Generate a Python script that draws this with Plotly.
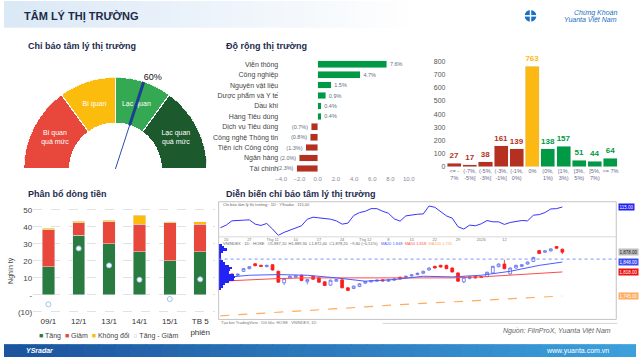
import plotly.graph_objects as go

W, H = 640, 360
FONT = "Arial, 'Liberation Sans', sans-serif"
NAVY = "#1d2b4f"


def fx(p):
    return p / W


def fy(p):
    return 1 - p / H


# ---------------- DATA ----------------
# Gauge
muc_tam_ly = ["Bi quan<br>quá mức", "Bi quan", "Lạc quan", "Lạc quan<br>quá mức"]
nguong_tam_ly = [0, 30, 50, 70, 100]
mau_tam_ly = ["#E8473B", "#FBBC0E", "#35A853", "#1C5A2D"]
chi_bao_hien_tai = 60

# Do rong thi truong theo nganh (%)
nganh = ["Viễn thông", "Công nghiệp", "Nguyên vật liệu", "Dược phẩm và Y tế", "Dầu khí",
         "Hàng Tiêu dùng", "Dịch vụ Tiêu dùng", "Công nghệ Thông tin", "Tiện ích Công cộng",
         "Ngân hàng", "Tài chính"]
do_rong = [7.6, 4.7, 1.5, 0.9, 0.4, 0.4, -0.7, -0.8, -1.3, -2.0, -2.3]

# Phan phoi bien dong gia
khoang_gia = ["<= -<br>7%", "(-7%,<br>-5%]", "(-5%,<br>-3%]", "(-3%,<br>-1%]", "(-1%,<br>0%)", "0%",
              "(0%,<br>1%)", "[1%,<br>3%)", "[3%,<br>5%)", "[5%,<br>7%)", ">= 7%"]
so_ma = [27, 17, 38, 161, 139, 763, 138, 157, 51, 44, 64]
mau_khoang = ["#B5301F"] * 5 + ["#FDB913"] + ["#009A44"] * 5

# Phan bo dong tien (nghin ty)
ngay = ["09/1", "12/1", "13/1", "14/1", "15/1", "TB 5<br>phiên"]
tang = [16.5, 35.0, 30.2, 25.3, 20.0, 25.4]
giam = [22.0, 7.6, 12.8, 16.3, 22.4, 16.2]
khong_doi = [0.9, 0.8, 1.0, 5.3, 0.8, 1.6]

# Dien bien chi bao tam ly (top pane)
chi_bao_ts = [52, 60, 73, 73, 75, 76, 63, 59, 65, 48, 29, 38, 45, 50, 58, 78, 84, 82, 81, 78,
              73, 63, 66, 89, 98, 102, 110, 110, 102, 96, 79, 72, 88, 91, 93, 94, 118, 114, 100, 88,
              81, 55, 48, 60, 58, 64, 74, 70, 70, 62, 68, 72, 74, 73, 90, 92, 98, 109, 110, 115]

# VN-Index candles
gia_mo = [1802, 1808, 1812, 1808, 1820, 1828, 1843, 1838, 1834, 1840, 1820, 1785, 1800, 1802, 1808,
          1788, 1805, 1800, 1788, 1778, 1790, 1794, 1770, 1768, 1774, 1784, 1788, 1790, 1794, 1790,
          1793, 1802, 1801, 1806, 1810, 1814, 1824, 1835, 1838, 1838, 1830, 1815, 1788, 1798, 1804,
          1804, 1804, 1815, 1834, 1842, 1812, 1830, 1835, 1842, 1850, 1883, 1878, 1882, 1895, 1887]
gia_cao = [1804, 1810, 1813, 1813, 1830, 1836, 1845, 1840, 1840, 1842, 1822, 1800, 1807, 1809, 1810,
           1797, 1807, 1802, 1790, 1795, 1797, 1796, 1772, 1777, 1784, 1791, 1794, 1795, 1796, 1796,
           1799, 1804, 1807, 1811, 1816, 1822, 1832, 1837, 1840, 1840, 1832, 1817, 1804, 1806, 1806,
           1806, 1819, 1837, 1844, 1855, 1832, 1840, 1842, 1850, 1864, 1885, 1884, 1890, 1897, 1889]
gia_thap = [1793, 1802, 1807, 1806, 1818, 1826, 1835, 1833, 1832, 1822, 1785, 1778, 1798, 1800, 1790,
            1780, 1794, 1785, 1775, 1776, 1788, 1768, 1760, 1766, 1772, 1782, 1786, 1788, 1789, 1788,
            1791, 1795, 1799, 1804, 1808, 1812, 1822, 1828, 1831, 1826, 1816, 1788, 1784, 1796, 1798,
            1800, 1802, 1813, 1832, 1826, 1810, 1828, 1833, 1840, 1848, 1872, 1876, 1880, 1888, 1872]
gia_dong = [1795, 1804, 1809, 1811, 1828, 1834, 1837, 1835, 1838, 1824, 1787, 1798, 1805, 1807, 1792,
            1795, 1796, 1787, 1777, 1793, 1795, 1770, 1762, 1775, 1782, 1789, 1792, 1793, 1791, 1794,
            1797, 1797, 1805, 1809, 1814, 1820, 1830, 1830, 1833, 1828, 1818, 1790, 1802, 1804, 1800,
            1802, 1817, 1835, 1842, 1828, 1830, 1838, 1840, 1848, 1862, 1874, 1882, 1888, 1890, 1878]

phien_ma = [0, 5, 10, 15, 20, 25, 30, 35, 40, 45, 50, 55, 59]
ma_ngan = [1800, 1808, 1810, 1808, 1800, 1790, 1795, 1805, 1803, 1808, 1820, 1838, 1848]
ma_trung = [1790, 1795, 1798, 1800, 1800, 1800, 1800, 1800, 1800, 1803, 1808, 1814, 1818]
ma_dai = [1685, 1690, 1695, 1700, 1705, 1712, 1718, 1723, 1728, 1733, 1738, 1742, 1745]
muc_tham_chieu = 1857

vp_gia = [1900, 1893, 1886, 1879, 1872, 1865, 1858, 1851, 1844, 1837, 1830, 1823, 1816, 1809,
          1802, 1795, 1788, 1781, 1774, 1767]
vp_khoi_luong = [10, 15, 25, 12, 8, 6, 8, 12, 18, 30, 40, 35, 30, 45, 50, 45, 30, 20, 12, 6]

phien_tick = [1, 5, 9, 13, 17, 21, 25, 29, 33, 37, 41, 45, 49, 53, 57]
nhan_tick = ["20", "27", "Thg 11", "10", "17", "24", "Thg 12", "8", "15", "22", "29", "2026", "12", "", ""]

# ---------------- FIGURE ----------------
fig = go.Figure()

# Gauge (polar)
theta_c, theta_w = [], []
for a, b in zip(nguong_tam_ly[:-1], nguong_tam_ly[1:]):
    theta_c.append(180 - 1.8 * (a + b) / 2)
    theta_w.append(1.8 * (b - a))
fig.add_trace(go.Barpolar(r=[0.5] * 4, base=[0.5] * 4, theta=theta_c, width=theta_w,
                          marker=dict(color=mau_tam_ly, line=dict(color="white", width=1.2)),
                          showlegend=False, hoverinfo="skip"))
fig.add_trace(go.Scatterpolar(r=[0.74] * 4, theta=theta_c, mode="text", text=muc_tam_ly,
                              textfont=dict(size=7, color="white", family=FONT), showlegend=False))
ang = 180 - 1.8 * chi_bao_hien_tai
fig.add_trace(go.Scatterpolar(r=[0, 1], theta=[ang, ang], mode="lines",
                              line=dict(color="#2a4fa8", width=1), showlegend=False))
fig.add_trace(go.Scatterpolar(r=[0.5, 1], theta=[ang, ang], mode="lines",
                              line=dict(color="#1b3f94", width=3), showlegend=False))
fig.add_trace(go.Scatterpolar(r=[1.0], theta=[ang], mode="text", text=[f"{chi_bao_hien_tai}%"],
                              textposition="top right", cliponaxis=False,
                              textfont=dict(size=9, color="#111", family=FONT), showlegend=False))

# Do rong thi truong
def fmt_pct(v):
    return f"{v:.1f}%" if v >= 0 else f"({abs(v):.1f}%)"

fig.add_trace(go.Bar(x=do_rong, y=nganh, orientation="h", width=0.64,
                     marker_color=["#009A44" if v >= 0 else "#B5301F" for v in do_rong],
                     text=[fmt_pct(v) for v in do_rong], textposition="outside",
                     textfont=dict(size=5.5, color="#60707f"), cliponaxis=False,
                     xaxis="x", yaxis="y", showlegend=False))

# Histogram
fig.add_trace(go.Bar(x=khoang_gia, y=so_ma, width=0.9, marker_color=mau_khoang,
                     text=[str(v) for v in so_ma], textposition="outside",
                     textfont=dict(size=8, color=mau_khoang, weight="bold"), cliponaxis=False,
                     xaxis="x2", yaxis="y2", showlegend=False))

# Phan bo dong tien
fig.add_trace(go.Bar(x=ngay, y=tang, width=0.41, marker_color="#2A7B40", name="Tăng",
                     xaxis="x3", yaxis="y3", showlegend=False))
fig.add_trace(go.Bar(x=ngay, y=giam, width=0.41, marker_color="#E8473B", name="Giảm",
                     xaxis="x3", yaxis="y3", showlegend=False))
fig.add_trace(go.Bar(x=ngay, y=khong_doi, width=0.41, marker_color="#FBBC0E", name="Không đổi",
                     xaxis="x3", yaxis="y3", showlegend=False))
chenh_lech = [t - g for t, g in zip(tang, giam)]
fig.add_trace(go.Scatter(x=ngay, y=chenh_lech, mode="markers", name="Tăng - Giảm",
                         marker=dict(size=5, color="white", line=dict(color="#9cc3e6", width=1)),
                         xaxis="x3", yaxis="y3", showlegend=False))

# Top pane line
phien = list(range(len(chi_bao_ts)))
fig.add_trace(go.Scatter(x=phien, y=chi_bao_ts, mode="lines", line=dict(color="#3434ff", width=1),
                         xaxis="x4", yaxis="y4", showlegend=False))

# Volume profile
fig.add_trace(go.Bar(x=vp_khoi_luong, y=vp_gia, orientation="h", width=7,
                     marker=dict(color="#2323f5", line=dict(width=0)),
                     xaxis="x6", yaxis="y5", showlegend=False))

# MAs
fig.add_trace(go.Scatter(x=phien_ma, y=ma_dai, mode="lines", line=dict(color="#ffab5c", width=1.2, dash="dash"),
                         xaxis="x5", yaxis="y5", showlegend=False))
fig.add_trace(go.Scatter(x=phien_ma, y=ma_trung, mode="lines", line=dict(color="#ff4a4a", width=1),
                         xaxis="x5", yaxis="y5", showlegend=False))
fig.add_trace(go.Scatter(x=phien_ma, y=ma_ngan, mode="lines", line=dict(color="#4a5cff", width=1),
                         xaxis="x5", yaxis="y5", showlegend=False))

# Candles
phien_nen = list(range(len(gia_mo)))
fig.add_trace(go.Candlestick(x=phien_nen, open=gia_mo, high=gia_cao, low=gia_thap, close=gia_dong,
                             increasing=dict(line=dict(color="#5a6bf0", width=0.8), fillcolor="white"),
                             decreasing=dict(line=dict(color="#ff1a1a", width=0.8), fillcolor="#ff1a1a"),
                             whiskerwidth=0, xaxis="x5", yaxis="y5", showlegend=False))

# ---------------- LAYOUT ----------------
shapes = []
# header gradient
N = 40
for i in range(N):
    t = i / (N - 1)
    c = [int(219 + (255 - 219) * t), int(233 + (255 - 233) * t), int(247 + (255 - 247) * t)]
    shapes.append(dict(type="rect", xref="paper", yref="paper", x0=fx(i * 420 / N), x1=fx((i + 1) * 420 / N + 1),
                       y0=fy(27), y1=fy(0), fillcolor=f"rgb({c[0]},{c[1]},{c[2]})", line=dict(width=0), layer="below"))
# footer gradient
for i in range(N):
    t = i / (N - 1)
    c = [int(28 + (60 - 28) * t), int(84 + (160 - 84) * t), int(158 + (220 - 158) * t)]
    shapes.append(dict(type="rect", xref="paper", yref="paper", x0=fx(i * 640 / N), x1=fx((i + 1) * 640 / N + 1),
                       y0=fy(360), y1=fy(347), fillcolor=f"rgb({c[0]},{c[1]},{c[2]})", line=dict(width=0), layer="below"))
# logo icon
shapes.append(dict(type="circle", xref="paper", yref="paper", x0=fx(528), x1=fx(540), y0=fy(21), y1=fy(9),
                   fillcolor="#1a6fc0", line=dict(width=0)))
shapes.append(dict(type="line", xref="paper", yref="paper", x0=fx(534), x1=fx(534), y0=fy(22), y1=fy(8),
                   line=dict(color="white", width=1.5)))
shapes.append(dict(type="line", xref="paper", yref="paper", x0=fx(527), x1=fx(541), y0=fy(15), y1=fy(15),
                   line=dict(color="white", width=1.5)))
# chart frame
shapes.append(dict(type="rect", xref="paper", yref="paper", x0=fx(217.7), x1=fx(621), y0=fy(322), y1=fy(203),
                   line=dict(color="#c4c4c4", width=1)))
shapes.append(dict(type="line", xref="paper", yref="paper", x0=fx(217.7), x1=fx(621), y0=fy(238.5), y1=fy(238.5),
                   line=dict(color="#d8d8d8", width=1)))
shapes.append(dict(type="line", xref="paper", yref="y5", x0=fx(217.7), x1=fx(621), y0=muc_tham_chieu, y1=muc_tham_chieu,
                   line=dict(color="#8090ff", width=1, dash="dot")))
# source line
shapes.append(dict(type="line", xref="paper", yref="paper", x0=fx(384), x1=fx(622), y0=fy(326), y1=fy(326),
                   line=dict(color="#d5d5d5", width=1)))

ann = []


def text(x, y, s, size=9, color=NAVY, xanchor="left", **kw):
    ann.append(dict(x=fx(x), y=fy(y), xref="paper", yref="paper", text=s, showarrow=False,
                    xanchor=xanchor, yanchor="middle", font=dict(size=size, color=color, family=FONT), **kw))


text(18, 16, "<b>TÂM LÝ THỊ TRƯỜNG</b>", size=11, color="#1c2b48")
text(624, 12, "<i>Chứng Khoán</i>", size=7, color="#1a6fc0", xanchor="right")
text(624, 19, "<i>Yuanta Việt Nam</i>", size=7, color="#1a6fc0", xanchor="right")
text(22, 45, "<b>Chỉ báo tâm lý thị trường</b>", size=9)
text(223, 45, "<b>Độ rộng thị trường</b>", size=9)
text(22, 195, "<b>Phân bổ dòng tiền</b>", size=9)
text(223, 195, "<b>Diễn biến chỉ báo tâm lý thị trường</b>", size=9)
text(7, 272, "Nghìn tỷ", size=7, color="#444", xanchor="center", textangle=-90)
text(33, 339, "<span style='color:#2A7B40'>■</span> Tăng  <span style='color:#E8473B'>■</span> Giảm  "
              "<span style='color:#FBBC0E'>■</span> Không đổi  <span style='color:#9cc3e6'>○</span> Tăng - Giảm",
     size=7, color="#444")
text(618, 333, "<i>Nguồn: FiinProX, Yuanta Việt Nam</i>", size=7, color="#666", xanchor="right")
text(20, 353.5, "<i><b>YSradar</b></i>", size=7, color="white")
text(616, 353.5, "www.yuanta.com.vn", size=7, color="white", xanchor="right")
# tiny chart texts
text(220, 206, "Chỉ báo tâm lý thị trường · 1D · YSradar   115,00", size=4, color="#666")
text(220, 245.5, "VNINDEX · 1D · HOSE   O1.887,10  H1.889,30  L1.872,40  C1.878,20  −9,60 (−0,51%)   "
                 "<span style='color:#4a5cff'>MA20 1.848</span>  <span style='color:#ff4a4a'>MA50 1.818</span>  "
                 "<span style='color:#ffab5c'>MA200 1.745</span>", size=4, color="#666")
text(218, 325, "Tạo bởi TradingView · Dữ liệu: HOSE · VNINDEX, 1D", size=4, color="#777")

# right price labels
def tag(yref, val, bg, fc="white"):
    ann.append(dict(x=fx(622.5), y=val, xref="paper", yref=yref, text=f"{val:,.2f}", showarrow=False,
                    xanchor="left", yanchor="middle", bgcolor=bg, borderpad=0.5,
                    font=dict(size=4.5, color=fc, family=FONT)))


tag("y4", chi_bao_ts[-1], "#2222ee")
tag("y5", gia_dong[-1], "#bdbdbd", "#222")
tag("y5", ma_ngan[-1], "#3a4cf0")
tag("y5", ma_trung[-1], "#ee1111")
tag("y5", ma_dai[-1], "#ffab5c")

axis_common = dict(showgrid=False, zeroline=False, showline=False, ticks="")
fig.update_layout(
    width=W, height=H, margin=dict(l=0, r=0, t=0, b=0),
    paper_bgcolor="white", plot_bgcolor="rgba(0,0,0,0)",
    font=dict(family=FONT), barmode="stack", showlegend=False,
    shapes=shapes, annotations=ann,
    polar=dict(domain=dict(x=[fx(20), fx(206)], y=[fy(170), fy(77)]), sector=[0, 180],
               bgcolor="rgba(0,0,0,0)", hole=0,
               radialaxis=dict(visible=False, range=[0, 1]),
               angularaxis=dict(visible=False, direction="counterclockwise", rotation=0)),
    xaxis=dict(domain=[fx(279.2), fx(412.4)], range=[-4.2, 10.2], tickvals=list(range(-4, 11, 2)),
               tickformat=".1f", ticksuffix="%", tickfont=dict(size=6, color="#8a8a9a"), anchor="y", **axis_common),
    yaxis=dict(domain=[fy(174.6), fy(58.7)], type="category", autorange="reversed",
               tickfont=dict(size=7, color="#444"), anchor="x", **axis_common),
    xaxis2=dict(domain=[fx(448.8), fx(623)], type="category", tickfont=dict(size=5.5, color="#6a6a8a"),
                anchor="y2", tickangle=0, **axis_common),
    yaxis2=dict(domain=[fy(167.7), fy(55.7)], range=[0, 840], tickvals=list(range(0, 801, 100)),
                tickfont=dict(size=7, color="#555"), anchor="x2", **axis_common),
    xaxis3=dict(domain=[fx(29.6), fx(214.4)], type="category", tickfont=dict(size=8, color="#333"),
                anchor="y3", tickangle=0, **axis_common),
    yaxis3=dict(domain=[fy(317.9), fy(207.9)], range=[-12, 52], tickvals=[-10, 0, 10, 20, 30, 40, 50],
                ticktext=["(10)", "-", "10", "20", "30", "40", "50"], tickfont=dict(size=8, color="#444"),
                showgrid=True, gridcolor="#e2e2e2", griddash="dash", zeroline=False, showline=False,
                ticks="", anchor="x3"),
    xaxis4=dict(domain=[fx(217.7), fx(621)], range=[-0.3, 68.3], tickvals=phien_tick, ticktext=nhan_tick,
                tickfont=dict(size=4, color="#777"), anchor="y4", **axis_common),
    yaxis4=dict(domain=[fy(237.5), fy(203.3)], range=[27.4, 130], visible=False, anchor="x4"),
    xaxis5=dict(domain=[fx(217.7), fx(621)], range=[-0.3, 68.3], visible=False, anchor="y5",
                rangeslider=dict(visible=False)),
    yaxis5=dict(domain=[fy(322), fy(243)], range=[1674, 1911], visible=False, anchor="x5"),
    xaxis6=dict(overlaying="x5", range=[0, 1200], visible=False, anchor="y5"),
)

fig.write_html("out.html", config={"displayModeBar": False},
               post_script="document.body.style.margin='0';document.body.style.overflow='hidden';")
